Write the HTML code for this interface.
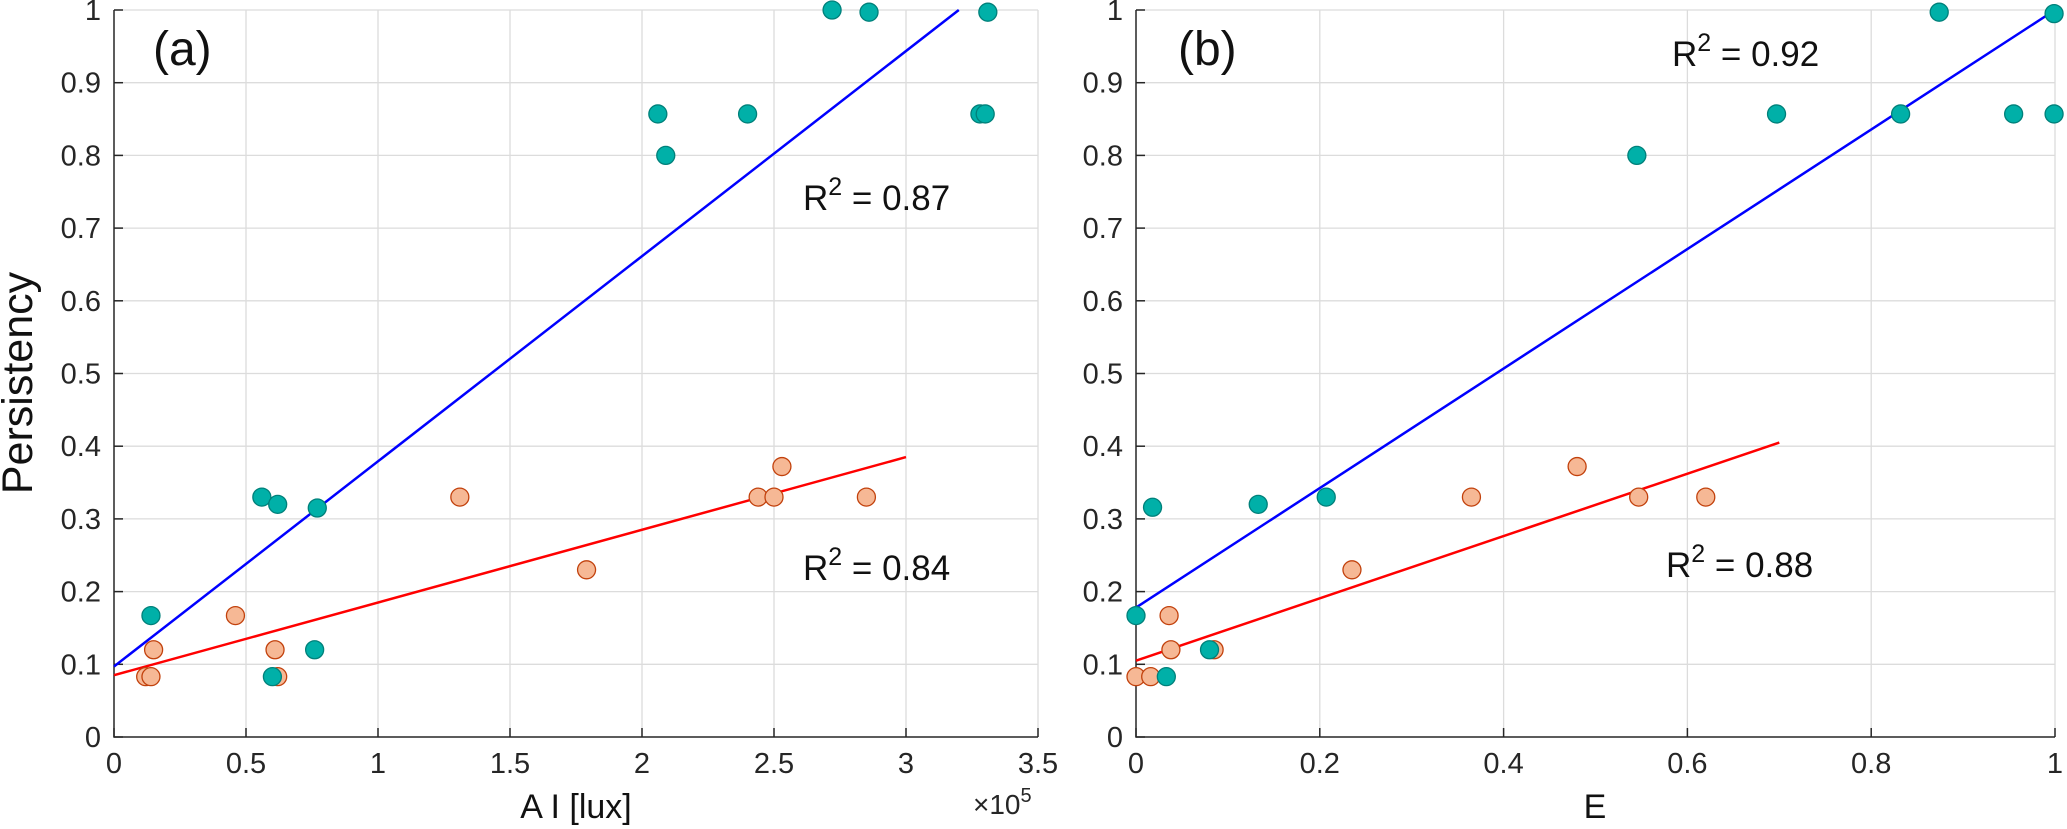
<!DOCTYPE html>
<html><head><meta charset="utf-8"><style>
html,body{margin:0;padding:0;background:#fff;}
svg{display:block;font-family:"Liberation Sans",Arial,sans-serif;}
</style></head><body>
<svg id="chart" width="2067" height="829" viewBox="0 0 2067 829"></svg>
<script>
const yTicks=[0,0.1,0.2,0.3,0.4,0.5,0.6,0.7,0.8,0.9,1];
const aTicks=[0,0.5,1,1.5,2,2.5,3,3.5];
const bTicks=[0,0.2,0.4,0.6,0.8,1];
const aTealX=[0.14,0.56,0.62,0.77,0.60,0.76,2.06,2.09,2.40,2.72,2.86,3.28,3.30,3.31];
const aTealY=[0.167,0.33,0.32,0.315,0.083,0.12,0.857,0.80,0.857,1.0,0.997,0.857,0.857,0.997];
const aOrX=[0.12,0.14,0.15,0.46,0.61,0.62,1.31,1.79,2.44,2.50,2.53,2.85];
const aOrY=[0.083,0.083,0.12,0.167,0.12,0.083,0.33,0.23,0.33,0.33,0.372,0.33];
const aBlueLine=[[0,0.097],[3.2,1.0]];
const aRedLine=[[0,0.085],[3.0,0.385]];
const bTealX=[0,0.018,0.033,0.08,0.133,0.207,0.545,0.697,0.832,0.874,0.955,0.999,0.999];
const bTealY=[0.167,0.316,0.083,0.12,0.32,0.33,0.80,0.857,0.857,0.997,0.857,0.857,0.995];
const bOrX=[0,0.016,0.036,0.038,0.085,0.235,0.365,0.48,0.547,0.62];
const bOrY=[0.083,0.083,0.167,0.12,0.12,0.23,0.33,0.372,0.33,0.33];
const bBlueLine=[[0,0.178],[1,1.0]];
const bRedLine=[[0,0.105],[0.7,0.405]];

const svg=document.getElementById('chart');
const NS='http://www.w3.org/2000/svg';
function el(tag,attrs,parent){const e=document.createElementNS(NS,tag);for(const k in attrs)e.setAttribute(k,attrs[k]);(parent||svg).appendChild(e);return e;}
const Y0=737,Y1=10;
function ys(v){return Y0-(Y0-Y1)*v;}

function panel(key,x0,x1,xmax,xt,xtLabels,tealX,tealY,orX,orY,blue,red,r2a,r2b,lab){
  const g=el('g',{});
  
  
  const xs=v=>x0+(x1-x0)*v/xmax;
  yTicks.forEach(t=>{if(t>0){const l=el('line',{x1:x0,x2:x1,y1:ys(t),y2:ys(t),stroke:'#dcdcdc','stroke-width':1.3},g);}});
  xt.forEach(t=>{if(t>0){const l=el('line',{x1:xs(t),x2:xs(t),y1:Y0,y2:Y1,stroke:'#dcdcdc','stroke-width':1.3},g);}});
  const ax=el('path',{d:`M${x0} ${Y1}V${Y0}H${x1}`,fill:'none',stroke:'#262626','stroke-width':1.5},g);
  
  yTicks.forEach(t=>{
    el('line',{x1:x0,x2:x0+9,y1:ys(t),y2:ys(t),stroke:'#262626','stroke-width':1.5},g);
    const tx=el('text',{x:x0-13,y:ys(t)+10,'text-anchor':'end','font-size':29,fill:'#262626'},g);
    tx.textContent=String(t);
    
  });
  xt.forEach((t,i)=>{
    el('line',{x1:xs(t),x2:xs(t),y1:Y0,y2:Y0-9,stroke:'#262626','stroke-width':1.5},g);
    const tx=el('text',{x:xs(t),y:773,'text-anchor':'middle','font-size':29,fill:'#262626'},g);
    tx.textContent=xtLabels[i];
    
  });
  const bl=el('line',{x1:xs(blue[0][0]),y1:ys(blue[0][1]),x2:xs(blue[1][0]),y2:ys(blue[1][1]),stroke:'#0000ff','stroke-width':2.5},g);
  
  const rl=el('line',{x1:xs(red[0][0]),y1:ys(red[0][1]),x2:xs(red[1][0]),y2:ys(red[1][1]),stroke:'#ff0000','stroke-width':2.5},g);
  
  orX.forEach((x,i)=>{
    const c=el('circle',{cx:xs(x),cy:ys(orY[i]),r:9,fill:'#f6b895',stroke:'#c2410c','stroke-width':1.3},g);
    
  });
  tealX.forEach((x,i)=>{
    const c=el('circle',{cx:xs(x),cy:ys(tealY[i]),r:9,fill:'#00b0a8',stroke:'#00807a','stroke-width':1.3},g);
    
  });
  [r2a,r2b].forEach(r=>{
    const t=el('text',{x:r[0],y:r[1],'font-size':35,fill:'#111'},g);
    t.innerHTML='R<tspan dy="-15" font-size="25">2</tspan><tspan dy="15"> = '+r[2]+'</tspan>';
    
  });
  const pl=el('text',{x:lab[0],y:lab[1],'font-size':48,fill:'#111'},g);
  pl.textContent=lab[2];
  
}
panel('a',114,1038,3.5,aTicks,aTicks.map(String),aTealX,aTealY,aOrX,aOrY,aBlueLine,aRedLine,[803,210,'0.87'],[803,580,'0.84'],[153,65,'(a)']);
panel('b',1136,2055,1,bTicks,bTicks.map(String),bTealX,bTealY,bOrX,bOrY,bBlueLine,bRedLine,[1672,66,'0.92'],[1666,577,'0.88'],[1178,65,'(b)']);

const yl=el('text',{x:0,y:0,transform:'translate(32,383) rotate(-90)','text-anchor':'middle','font-size':43,fill:'#111'});
yl.textContent='Persistency';

const xa=el('text',{x:576,y:818,'text-anchor':'middle','font-size':34,fill:'#111'});
xa.textContent='A I [lux]';

const xb=el('text',{x:1595,y:818,'text-anchor':'middle','font-size':34,fill:'#111'});
xb.textContent='E';

const ex=el('text',{x:973,y:814,'font-size':28,fill:'#262626'});
ex.innerHTML='×10<tspan dy="-12" font-size="20">5</tspan>';

</script>
</body></html>
